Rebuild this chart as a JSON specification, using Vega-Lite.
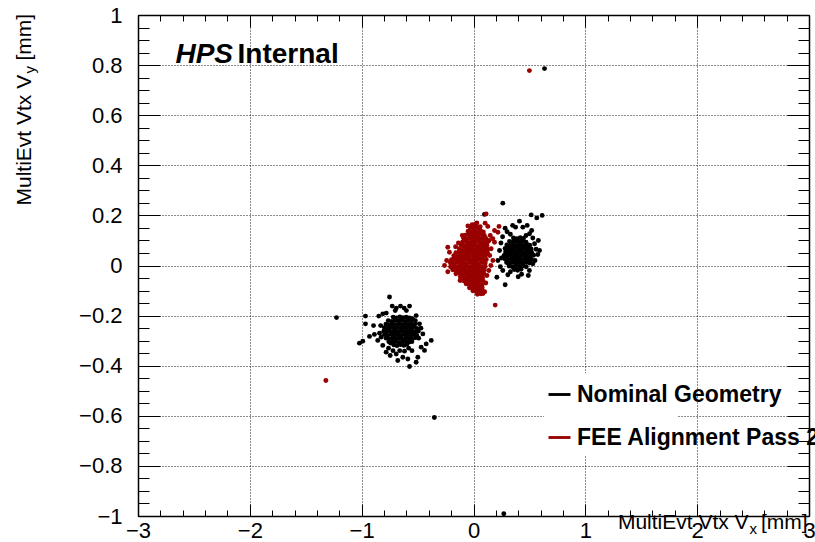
{
  "$schema": "https://vega.github.io/schema/vega-lite/v6.json",
  "width": 671,
  "height": 501,
  "autosize": {"type": "none"},
  "padding": {"left": 138, "top": 15, "right": 6, "bottom": 26},
  "background": "#ffffff",
  "config": {
    "view": {"stroke": null},
    "font": "Liberation Sans",
    "axis": {
      "labelFont": "Liberation Sans",
      "labelFontSize": 22,
      "labelColor": "#000000",
      "tickColor": "#000000",
      "tickWidth": 1,
      "domainColor": "#000000",
      "domainWidth": 1.5,
      "title": null,
      "labelFlush": false,
      "labelOverlap": false,
      "labelBound": false
    },
    "legend": {
      "orient": "none",
      "legendX": 410,
      "legendY": 368,
      "title": null,
      "symbolType": "M-1,-0.13H1V0.13H-1Z",
      "symbolSize": 484,
      "symbolStrokeWidth": 0,
      "labelFont": "Liberation Sans",
      "labelFontSize": 23,
      "labelFontWeight": "bold",
      "labelColor": "#000000",
      "labelLimit": 400,
      "labelOffset": 6,
      "rowPadding": 19
    }
  },
  "datasets": {
    "nominal": [
      {"x": -0.712, "y": -0.317}, {"x": -0.684, "y": -0.32}, {"x": -0.651, "y": -0.316}, {"x": -0.622, "y": -0.319}, {"x": -0.596, "y": -0.315},
      {"x": -0.757, "y": -0.304}, {"x": -0.726, "y": -0.306}, {"x": -0.699, "y": -0.303}, {"x": -0.668, "y": -0.307}, {"x": -0.637, "y": -0.305}, {"x": -0.609, "y": -0.302}, {"x": -0.578, "y": -0.306}, {"x": -0.551, "y": -0.304},
      {"x": -0.781, "y": -0.29}, {"x": -0.753, "y": -0.293}, {"x": -0.722, "y": -0.289}, {"x": -0.694, "y": -0.292}, {"x": -0.662, "y": -0.29}, {"x": -0.633, "y": -0.293}, {"x": -0.605, "y": -0.289}, {"x": -0.574, "y": -0.291}, {"x": -0.546, "y": -0.292}, {"x": -0.519, "y": -0.288},
      {"x": -0.796, "y": -0.276}, {"x": -0.768, "y": -0.279}, {"x": -0.737, "y": -0.275}, {"x": -0.708, "y": -0.278}, {"x": -0.679, "y": -0.276}, {"x": -0.648, "y": -0.279}, {"x": -0.619, "y": -0.275}, {"x": -0.592, "y": -0.277}, {"x": -0.561, "y": -0.278}, {"x": -0.533, "y": -0.275}, {"x": -0.507, "y": -0.279},
      {"x": -0.802, "y": -0.262}, {"x": -0.781, "y": -0.265}, {"x": -0.752, "y": -0.261}, {"x": -0.722, "y": -0.264}, {"x": -0.694, "y": -0.262}, {"x": -0.665, "y": -0.265}, {"x": -0.636, "y": -0.261}, {"x": -0.607, "y": -0.263}, {"x": -0.578, "y": -0.264}, {"x": -0.549, "y": -0.261}, {"x": -0.52, "y": -0.265}, {"x": -0.494, "y": -0.262},
      {"x": -0.797, "y": -0.248}, {"x": -0.768, "y": -0.251}, {"x": -0.738, "y": -0.247}, {"x": -0.709, "y": -0.25}, {"x": -0.68, "y": -0.248}, {"x": -0.651, "y": -0.251}, {"x": -0.621, "y": -0.247}, {"x": -0.593, "y": -0.249}, {"x": -0.563, "y": -0.25}, {"x": -0.534, "y": -0.247}, {"x": -0.506, "y": -0.251},
      {"x": -0.783, "y": -0.234}, {"x": -0.754, "y": -0.237}, {"x": -0.724, "y": -0.233}, {"x": -0.696, "y": -0.236}, {"x": -0.666, "y": -0.234}, {"x": -0.637, "y": -0.237}, {"x": -0.607, "y": -0.233}, {"x": -0.578, "y": -0.235}, {"x": -0.549, "y": -0.236}, {"x": -0.521, "y": -0.233},
      {"x": -0.762, "y": -0.22}, {"x": -0.731, "y": -0.223}, {"x": -0.702, "y": -0.219}, {"x": -0.673, "y": -0.222}, {"x": -0.644, "y": -0.22}, {"x": -0.614, "y": -0.223}, {"x": -0.585, "y": -0.219}, {"x": -0.556, "y": -0.221},
      {"x": -0.718, "y": -0.206}, {"x": -0.689, "y": -0.209}, {"x": -0.659, "y": -0.205}, {"x": -0.63, "y": -0.208}, {"x": -0.601, "y": -0.206}, {"x": -0.573, "y": -0.209},
      {"x": -0.751, "y": -0.126}, {"x": -0.727, "y": -0.162}, {"x": -0.653, "y": -0.162}, {"x": -0.572, "y": -0.162}, {"x": -0.847, "y": -0.202}, {"x": -0.966, "y": -0.202}, {"x": -0.966, "y": -0.233}, {"x": -0.894, "y": -0.24}, {"x": -0.93, "y": -0.283}, {"x": -0.886, "y": -0.275}, {"x": -1.02, "y": -0.31}, {"x": -0.99, "y": -0.302}, {"x": -0.826, "y": -0.286}, {"x": -0.811, "y": -0.319}, {"x": -0.745, "y": -0.359}, {"x": -0.677, "y": -0.379}, {"x": -0.572, "y": -0.403}, {"x": -0.587, "y": -0.373}, {"x": -0.498, "y": -0.366}, {"x": -0.513, "y": -0.386}, {"x": -0.438, "y": -0.339}, {"x": -0.378, "y": -0.299}, {"x": -0.453, "y": -0.273}, {"x": -0.483, "y": -0.233}, {"x": -0.513, "y": -0.2}, {"x": -0.546, "y": -0.212}, {"x": -0.811, "y": -0.193}, {"x": -0.617, "y": -0.342}, {"x": -0.691, "y": -0.353}, {"x": -0.468, "y": -0.326}, {"x": -0.423, "y": -0.313}, {"x": -0.856, "y": -0.299}, {"x": -0.781, "y": -0.346}, {"x": -0.632, "y": -0.366}, {"x": -0.83, "y": -0.24}, {"x": -0.49, "y": -0.29}, {"x": -0.47, "y": -0.25}, {"x": -0.84, "y": -0.27}, {"x": -0.55, "y": -0.34}, {"x": -0.72, "y": -0.34}, {"x": -0.6, "y": -0.18}, {"x": -0.7, "y": -0.18}, {"x": -0.78, "y": -0.19}, {"x": -0.52, "y": -0.22}, {"x": -0.76, "y": -0.33}, {"x": -0.58, "y": -0.33}, {"x": -0.66, "y": -0.34}, {"x": -0.69, "y": -0.17}, {"x": -0.62, "y": -0.17}, {"x": -0.74, "y": -0.31},
      {"x": -1.225, "y": -0.208}, {"x": -0.35, "y": -0.607}, {"x": 0.271, "y": -0.991}, {"x": 0.635, "y": 0.786},
      {"x": 0.365, "y": -0.016}, {"x": 0.394, "y": -0.019}, {"x": 0.425, "y": -0.015},
      {"x": 0.318, "y": -0.002}, {"x": 0.347, "y": -0.005}, {"x": 0.378, "y": -0.001}, {"x": 0.409, "y": -0.004}, {"x": 0.44, "y": -0.002}, {"x": 0.471, "y": -0.005},
      {"x": 0.296, "y": 0.012}, {"x": 0.325, "y": 0.009}, {"x": 0.355, "y": 0.013}, {"x": 0.386, "y": 0.01}, {"x": 0.414, "y": 0.012}, {"x": 0.444, "y": 0.009}, {"x": 0.473, "y": 0.013}, {"x": 0.503, "y": 0.01},
      {"x": 0.282, "y": 0.026}, {"x": 0.31, "y": 0.023}, {"x": 0.34, "y": 0.027}, {"x": 0.37, "y": 0.024}, {"x": 0.398, "y": 0.026}, {"x": 0.429, "y": 0.023}, {"x": 0.458, "y": 0.027}, {"x": 0.488, "y": 0.025}, {"x": 0.517, "y": 0.024},
      {"x": 0.274, "y": 0.04}, {"x": 0.303, "y": 0.037}, {"x": 0.333, "y": 0.041}, {"x": 0.362, "y": 0.038}, {"x": 0.392, "y": 0.04}, {"x": 0.421, "y": 0.037}, {"x": 0.451, "y": 0.041}, {"x": 0.48, "y": 0.039}, {"x": 0.509, "y": 0.038}, {"x": 0.537, "y": 0.041},
      {"x": 0.287, "y": 0.054}, {"x": 0.316, "y": 0.051}, {"x": 0.346, "y": 0.055}, {"x": 0.375, "y": 0.052}, {"x": 0.405, "y": 0.054}, {"x": 0.434, "y": 0.051}, {"x": 0.464, "y": 0.055}, {"x": 0.493, "y": 0.053}, {"x": 0.521, "y": 0.052},
      {"x": 0.283, "y": 0.068}, {"x": 0.311, "y": 0.065}, {"x": 0.341, "y": 0.069}, {"x": 0.37, "y": 0.066}, {"x": 0.4, "y": 0.068}, {"x": 0.429, "y": 0.065}, {"x": 0.458, "y": 0.069}, {"x": 0.488, "y": 0.067}, {"x": 0.515, "y": 0.066},
      {"x": 0.298, "y": 0.082}, {"x": 0.327, "y": 0.079}, {"x": 0.357, "y": 0.083}, {"x": 0.386, "y": 0.08}, {"x": 0.416, "y": 0.082}, {"x": 0.445, "y": 0.079}, {"x": 0.474, "y": 0.083}, {"x": 0.503, "y": 0.081},
      {"x": 0.322, "y": 0.096}, {"x": 0.351, "y": 0.093}, {"x": 0.381, "y": 0.097}, {"x": 0.41, "y": 0.094}, {"x": 0.44, "y": 0.096}, {"x": 0.47, "y": 0.093},
      {"x": 0.357, "y": 0.11}, {"x": 0.388, "y": 0.107}, {"x": 0.418, "y": 0.111}, {"x": 0.447, "y": 0.108},
      {"x": 0.262, "y": 0.249}, {"x": 0.516, "y": 0.202}, {"x": 0.566, "y": 0.19}, {"x": 0.614, "y": 0.2}, {"x": 0.411, "y": 0.177}, {"x": 0.283, "y": 0.149}, {"x": 0.209, "y": -0.047}, {"x": 0.283, "y": -0.077}, {"x": 0.307, "y": -0.037}, {"x": 0.575, "y": 0.044}, {"x": 0.531, "y": 0.007}, {"x": 0.546, "y": 0.087}, {"x": 0.501, "y": 0.127}, {"x": 0.441, "y": 0.153}, {"x": 0.376, "y": 0.153}, {"x": 0.233, "y": 0.06}, {"x": 0.218, "y": 0.02}, {"x": 0.262, "y": -0.02}, {"x": 0.245, "y": 0.09}, {"x": 0.26, "y": 0.115}, {"x": 0.33, "y": 0.125}, {"x": 0.47, "y": 0.12}, {"x": 0.53, "y": 0.11}, {"x": 0.56, "y": 0.065}, {"x": 0.55, "y": 0.02}, {"x": 0.5, "y": -0.02}, {"x": 0.43, "y": -0.035}, {"x": 0.33, "y": -0.025}, {"x": 0.25, "y": 0.03}, {"x": 0.3, "y": 0.135}, {"x": 0.58, "y": 0.1}, {"x": 0.49, "y": -0.04}, {"x": 0.4, "y": -0.045}, {"x": 0.24, "y": -0.005}, {"x": 0.59, "y": 0.06}, {"x": 0.35, "y": 0.16}, {"x": 0.48, "y": 0.16}, {"x": 0.52, "y": 0.14}, {"x": 0.098, "y": 0.204}
    ],
    "fee": [
      {"x": -0.028, "y": 0.151}, {"x": 0.001, "y": 0.148}, {"x": 0.029, "y": 0.152}, {"x": 0.052, "y": 0.149}, {"x": -0.012, "y": 0.163}, {"x": 0.015, "y": 0.16},
      {"x": -0.048, "y": 0.137}, {"x": -0.02, "y": 0.134}, {"x": 0.009, "y": 0.138}, {"x": 0.037, "y": 0.135}, {"x": 0.066, "y": 0.137}, {"x": 0.088, "y": 0.134},
      {"x": -0.072, "y": 0.121}, {"x": -0.044, "y": 0.124}, {"x": -0.016, "y": 0.12}, {"x": 0.013, "y": 0.123}, {"x": 0.041, "y": 0.121}, {"x": 0.069, "y": 0.124}, {"x": 0.097, "y": 0.12},
      {"x": -0.088, "y": 0.109}, {"x": -0.06, "y": 0.106}, {"x": -0.031, "y": 0.11}, {"x": -0.003, "y": 0.107}, {"x": 0.025, "y": 0.109}, {"x": 0.054, "y": 0.106}, {"x": 0.082, "y": 0.11}, {"x": 0.111, "y": 0.108},
      {"x": -0.099, "y": 0.093}, {"x": -0.071, "y": 0.096}, {"x": -0.043, "y": 0.092}, {"x": -0.014, "y": 0.095}, {"x": 0.014, "y": 0.093}, {"x": 0.043, "y": 0.096}, {"x": 0.071, "y": 0.092}, {"x": 0.099, "y": 0.095}, {"x": 0.126, "y": 0.094},
      {"x": -0.108, "y": 0.081}, {"x": -0.08, "y": 0.078}, {"x": -0.051, "y": 0.082}, {"x": -0.023, "y": 0.079}, {"x": 0.005, "y": 0.081}, {"x": 0.034, "y": 0.078}, {"x": 0.062, "y": 0.082}, {"x": 0.09, "y": 0.079}, {"x": 0.119, "y": 0.081},
      {"x": -0.128, "y": 0.067}, {"x": -0.1, "y": 0.064}, {"x": -0.071, "y": 0.068}, {"x": -0.043, "y": 0.065}, {"x": -0.015, "y": 0.067}, {"x": 0.014, "y": 0.064}, {"x": 0.042, "y": 0.068}, {"x": 0.07, "y": 0.065}, {"x": 0.099, "y": 0.067}, {"x": 0.127, "y": 0.066},
      {"x": -0.158, "y": 0.051}, {"x": -0.129, "y": 0.054}, {"x": -0.101, "y": 0.05}, {"x": -0.073, "y": 0.053}, {"x": -0.044, "y": 0.051}, {"x": -0.016, "y": 0.054}, {"x": 0.012, "y": 0.05}, {"x": 0.041, "y": 0.053}, {"x": 0.069, "y": 0.051}, {"x": 0.097, "y": 0.054}, {"x": 0.125, "y": 0.052},
      {"x": -0.176, "y": 0.039}, {"x": -0.148, "y": 0.036}, {"x": -0.12, "y": 0.04}, {"x": -0.091, "y": 0.037}, {"x": -0.063, "y": 0.039}, {"x": -0.035, "y": 0.036}, {"x": -0.006, "y": 0.04}, {"x": 0.022, "y": 0.037}, {"x": 0.05, "y": 0.039}, {"x": 0.079, "y": 0.036}, {"x": 0.107, "y": 0.04},
      {"x": -0.197, "y": 0.023}, {"x": -0.169, "y": 0.026}, {"x": -0.141, "y": 0.022}, {"x": -0.112, "y": 0.025}, {"x": -0.084, "y": 0.023}, {"x": -0.056, "y": 0.026}, {"x": -0.027, "y": 0.022}, {"x": 0.001, "y": 0.025}, {"x": 0.029, "y": 0.023}, {"x": 0.058, "y": 0.026}, {"x": 0.086, "y": 0.022}, {"x": 0.114, "y": 0.024},
      {"x": -0.207, "y": 0.011}, {"x": -0.179, "y": 0.008}, {"x": -0.15, "y": 0.012}, {"x": -0.122, "y": 0.009}, {"x": -0.094, "y": 0.011}, {"x": -0.065, "y": 0.008}, {"x": -0.037, "y": 0.012}, {"x": -0.009, "y": 0.009}, {"x": 0.02, "y": 0.011}, {"x": 0.048, "y": 0.008}, {"x": 0.076, "y": 0.012}, {"x": 0.105, "y": 0.01},
      {"x": -0.205, "y": -0.005}, {"x": -0.177, "y": -0.002}, {"x": -0.148, "y": -0.006}, {"x": -0.12, "y": -0.003}, {"x": -0.092, "y": -0.005}, {"x": -0.063, "y": -0.002}, {"x": -0.035, "y": -0.006}, {"x": -0.007, "y": -0.003}, {"x": 0.022, "y": -0.005}, {"x": 0.05, "y": -0.002}, {"x": 0.078, "y": -0.006}, {"x": 0.104, "y": -0.004},
      {"x": -0.186, "y": -0.017}, {"x": -0.158, "y": -0.02}, {"x": -0.129, "y": -0.016}, {"x": -0.101, "y": -0.019}, {"x": -0.073, "y": -0.017}, {"x": -0.044, "y": -0.02}, {"x": -0.016, "y": -0.016}, {"x": 0.012, "y": -0.019}, {"x": 0.041, "y": -0.017}, {"x": 0.069, "y": -0.02}, {"x": 0.096, "y": -0.018},
      {"x": -0.157, "y": -0.033}, {"x": -0.128, "y": -0.03}, {"x": -0.1, "y": -0.034}, {"x": -0.072, "y": -0.031}, {"x": -0.043, "y": -0.033}, {"x": -0.015, "y": -0.03}, {"x": 0.013, "y": -0.034}, {"x": 0.042, "y": -0.031}, {"x": 0.07, "y": -0.033}, {"x": 0.092, "y": -0.032},
      {"x": -0.118, "y": -0.045}, {"x": -0.089, "y": -0.048}, {"x": -0.061, "y": -0.044}, {"x": -0.033, "y": -0.047}, {"x": -0.004, "y": -0.045}, {"x": 0.024, "y": -0.048}, {"x": 0.052, "y": -0.044}, {"x": 0.081, "y": -0.047},
      {"x": -0.088, "y": -0.061}, {"x": -0.06, "y": -0.058}, {"x": -0.031, "y": -0.062}, {"x": -0.003, "y": -0.059}, {"x": 0.025, "y": -0.061}, {"x": 0.054, "y": -0.058}, {"x": 0.084, "y": -0.06},
      {"x": -0.066, "y": -0.073}, {"x": -0.037, "y": -0.076}, {"x": -0.009, "y": -0.072}, {"x": 0.019, "y": -0.075}, {"x": 0.048, "y": -0.073}, {"x": 0.077, "y": -0.076},
      {"x": -0.036, "y": -0.089}, {"x": -0.008, "y": -0.086}, {"x": 0.021, "y": -0.09}, {"x": 0.049, "y": -0.087}, {"x": 0.078, "y": -0.089},
      {"x": -0.006, "y": -0.101}, {"x": 0.022, "y": -0.104}, {"x": 0.051, "y": -0.1}, {"x": 0.08, "y": -0.103},
      {"x": 0.035, "y": -0.115}, {"x": 0.064, "y": -0.113}, {"x": 0.085, "y": -0.112},
      {"x": 0.113, "y": 0.206}, {"x": 0.018, "y": 0.166}, {"x": 0.104, "y": 0.169}, {"x": 0.128, "y": 0.156}, {"x": 0.228, "y": 0.156}, {"x": 0.218, "y": 0.133}, {"x": 0.188, "y": 0.093}, {"x": 0.137, "y": -0.02}, {"x": -0.23, "y": 0.073}, {"x": -0.215, "y": 0.053}, {"x": -0.259, "y": 0.0}, {"x": -0.17, "y": 0.033}, {"x": 0.194, "y": -0.158}, {"x": 0.5, "y": 0.778}, {"x": -1.32, "y": -0.459}, {"x": 0.188, "y": 0.14}, {"x": 0.173, "y": 0.107}, {"x": 0.158, "y": 0.067}, {"x": 0.173, "y": 0.02}, {"x": -0.05, "y": 0.158}, {"x": 0.06, "y": 0.155}, {"x": 0.15, "y": 0.12}, {"x": 0.145, "y": 0.04}, {"x": -0.135, "y": 0.09}, {"x": -0.24, "y": 0.02}, {"x": -0.23, "y": -0.025}, {"x": -0.12, "y": -0.06}, {"x": 0.11, "y": -0.07}, {"x": 0.1, "y": -0.105}, {"x": 0.14, "y": 0.1}, {"x": -0.16, "y": 0.075}, {"x": 0.03, "y": 0.17}, {"x": -0.1, "y": 0.12}, {"x": 0.12, "y": -0.04}, {"x": 0.155, "y": 0.0}
    ]
  },
  "resolve": {"axis": {"x": "independent", "y": "independent"}},
  "layer": [
    {
      "description": "white legend box hiding the grid behind the legend entries",
      "data": {"name": "fee"},
      "transform": [{"aggregate": [{"op": "count", "as": "n"}]}],
      "mark": {"type": "rect", "fill": "#ffffff"},
      "encoding": {
        "x": {"datum": 0.63, "type": "quantitative", "axis": null},
        "x2": {"datum": 1.82},
        "y": {"datum": -0.43, "type": "quantitative", "axis": null},
        "y2": {"datum": -0.76}
      }
    },
    {
      "data": {"name": "nominal"},
      "mark": {"type": "point", "filled": true, "size": 24, "opacity": 1, "strokeWidth": 0},
      "encoding": {
        "x": {
          "field": "x", "type": "quantitative",
          "scale": {"domain": [-3, 3], "nice": false, "zero": false},
          "axis": {
            "orient": "bottom", "values": [-3, -2, -1, 0, 1, 2, 3], "format": "~g",
            "tickSize": -12, "labelPadding": 16,
            "grid": true, "gridDash": [1, 2], "gridColor": "#000000", "gridWidth": 1, "gridOpacity": 0.9
          }
        },
        "y": {
          "field": "y", "type": "quantitative",
          "scale": {"domain": [-1, 1], "nice": false, "zero": false},
          "axis": {
            "orient": "left", "values": [-1, -0.8, -0.6, -0.4, -0.2, 0, 0.2, 0.4, 0.6, 0.8, 1], "format": "~g",
            "tickSize": -22, "labelPadding": 38,
            "grid": true, "gridDash": [1, 2], "gridColor": "#000000", "gridWidth": 1, "gridOpacity": 0.9
          }
        },
        "color": {
          "datum": "Nominal Geometry",
          "scale": {"domain": ["Nominal Geometry", "FEE Alignment Pass 2"], "range": ["#000000", "#990000"]}
        }
      }
    },
    {
      "data": {"name": "fee"},
      "mark": {"type": "point", "filled": true, "size": 24, "opacity": 1, "strokeWidth": 0},
      "encoding": {
        "x": {"field": "x", "type": "quantitative", "axis": null},
        "y": {"field": "y", "type": "quantitative", "axis": null},
        "color": {"datum": "FEE Alignment Pass 2"}
      }
    },
    {
      "description": "minor ticks, bottom and left",
      "data": {"name": "nominal"},
      "transform": [{"filter": "false"}],
      "mark": {"type": "point", "opacity": 0},
      "encoding": {
        "x": {"field": "x", "type": "quantitative", "axis": {"orient": "bottom", "values": [-2.8, -2.6, -2.4, -2.2, -1.8, -1.6, -1.4, -1.2, -0.8, -0.6, -0.4, -0.2, 0.2, 0.4, 0.6, 0.8, 1.2, 1.4, 1.6, 1.8, 2.2, 2.4, 2.6, 2.8], "labels": false, "domain": false, "grid": false, "tickSize": -6}},
        "y": {"field": "y", "type": "quantitative", "axis": {"orient": "left", "values": [-0.95, -0.9, -0.85, -0.75, -0.7, -0.65, -0.55, -0.5, -0.45, -0.35, -0.3, -0.25, -0.15, -0.1, -0.05, 0.05, 0.1, 0.15, 0.25, 0.3, 0.35, 0.45, 0.5, 0.55, 0.65, 0.7, 0.75, 0.85, 0.9, 0.95], "labels": false, "domain": false, "grid": false, "tickSize": -11}}
      }
    },
    {
      "description": "mirrored major ticks, top and right",
      "data": {"name": "nominal"},
      "transform": [{"filter": "false"}],
      "mark": {"type": "point", "opacity": 0},
      "encoding": {
        "x": {"field": "x", "type": "quantitative", "axis": {"orient": "top", "values": [-3, -2, -1, 0, 1, 2, 3], "labels": false, "grid": false, "tickSize": -12}},
        "y": {"field": "y", "type": "quantitative", "axis": {"orient": "right", "values": [-1, -0.8, -0.6, -0.4, -0.2, 0, 0.2, 0.4, 0.6, 0.8, 1], "labels": false, "grid": false, "tickSize": -22}}
      }
    },
    {
      "description": "mirrored minor ticks, top and right",
      "data": {"name": "nominal"},
      "transform": [{"filter": "false"}],
      "mark": {"type": "point", "opacity": 0},
      "encoding": {
        "x": {"field": "x", "type": "quantitative", "axis": {"orient": "top", "values": [-2.8, -2.6, -2.4, -2.2, -1.8, -1.6, -1.4, -1.2, -0.8, -0.6, -0.4, -0.2, 0.2, 0.4, 0.6, 0.8, 1.2, 1.4, 1.6, 1.8, 2.2, 2.4, 2.6, 2.8], "labels": false, "domain": false, "grid": false, "tickSize": -6}},
        "y": {"field": "y", "type": "quantitative", "axis": {"orient": "right", "values": [-0.95, -0.9, -0.85, -0.75, -0.7, -0.65, -0.55, -0.5, -0.45, -0.35, -0.3, -0.25, -0.15, -0.1, -0.05, 0.05, 0.1, 0.15, 0.25, 0.3, 0.35, 0.45, 0.5, 0.55, 0.65, 0.7, 0.75, 0.85, 0.9, 0.95], "labels": false, "domain": false, "grid": false, "tickSize": -11}}
      }
    },
    {
      "data": {"name": "fee"},
      "transform": [{"aggregate": [{"op": "count", "as": "n"}]}],
      "layer": [
        {
          "mark": {"type": "text", "text": "HPS", "align": "left", "baseline": "alphabetic", "font": "Liberation Sans", "fontSize": 28, "fontWeight": "bold", "fontStyle": "italic", "color": "#000000"},
          "encoding": {"x": {"datum": -2.665, "type": "quantitative", "axis": null}, "y": {"datum": 0.81, "type": "quantitative", "axis": null}}
        },
        {
          "mark": {"type": "text", "text": "Internal", "align": "left", "baseline": "alphabetic", "font": "Liberation Sans", "fontSize": 28, "fontWeight": "bold", "color": "#000000"},
          "encoding": {"x": {"datum": -2.11, "type": "quantitative", "axis": null}, "y": {"datum": 0.81, "type": "quantitative", "axis": null}}
        },
        {
          "mark": {"type": "text", "text": "MultiEvt Vtx V", "align": "right", "baseline": "alphabetic", "font": "Liberation Sans", "fontSize": 21, "color": "#000000"},
          "encoding": {"x": {"datum": 2.46, "type": "quantitative", "axis": null}, "y": {"datum": -1.05, "type": "quantitative", "axis": null}}
        },
        {
          "mark": {"type": "text", "text": "x", "align": "left", "baseline": "alphabetic", "font": "Liberation Sans", "fontSize": 15, "color": "#000000"},
          "encoding": {"x": {"datum": 2.469, "type": "quantitative", "axis": null}, "y": {"datum": -1.07, "type": "quantitative", "axis": null}}
        },
        {
          "mark": {"type": "text", "text": "[mm]", "align": "right", "baseline": "alphabetic", "font": "Liberation Sans", "fontSize": 21, "color": "#000000"},
          "encoding": {"x": {"datum": 2.987, "type": "quantitative", "axis": null}, "y": {"datum": -1.05, "type": "quantitative", "axis": null}}
        },
        {
          "mark": {"type": "text", "text": "MultiEvt Vtx V", "align": "left", "baseline": "alphabetic", "angle": 270, "font": "Liberation Sans", "fontSize": 21, "color": "#000000"},
          "encoding": {"x": {"datum": -3.953, "type": "quantitative", "axis": null}, "y": {"datum": 0.2395, "type": "quantitative", "axis": null}}
        },
        {
          "mark": {"type": "text", "text": "y", "align": "left", "baseline": "alphabetic", "angle": 270, "font": "Liberation Sans", "fontSize": 15, "color": "#000000"},
          "encoding": {"x": {"datum": -3.918, "type": "quantitative", "axis": null}, "y": {"datum": 0.766, "type": "quantitative", "axis": null}}
        },
        {
          "mark": {"type": "text", "text": "[mm]", "align": "left", "baseline": "alphabetic", "angle": 270, "font": "Liberation Sans", "fontSize": 21, "color": "#000000"},
          "encoding": {"x": {"datum": -3.953, "type": "quantitative", "axis": null}, "y": {"datum": 0.818, "type": "quantitative", "axis": null}}
        }
      ]
    }
  ]
}
